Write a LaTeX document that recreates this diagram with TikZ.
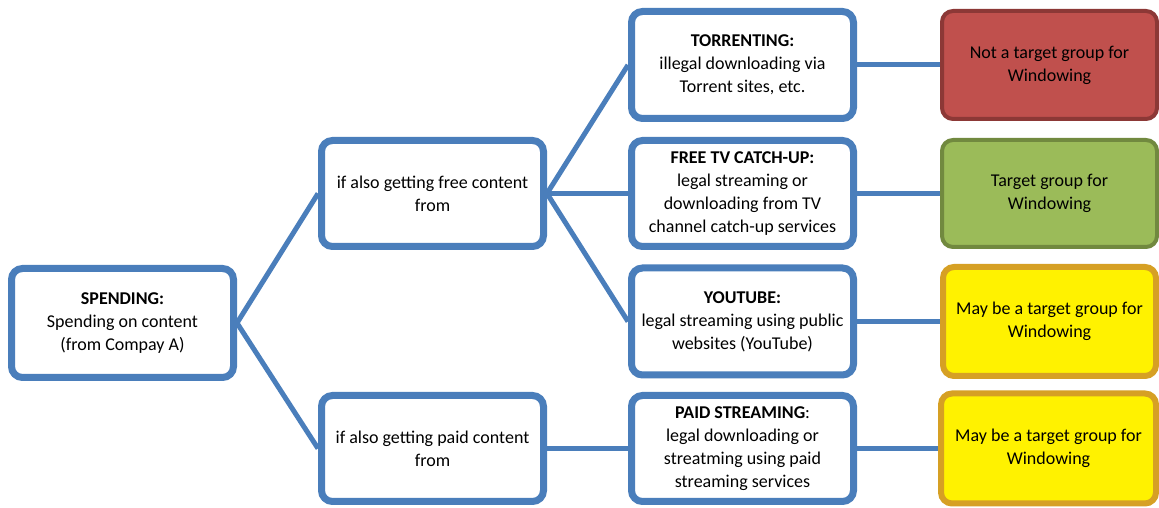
\documentclass[tikz,border=0pt]{standalone}
\usepackage{fontspec}
\setmainfont{Carlito}
\usepackage{tikz}
\usetikzlibrary{positioning}
\definecolor{boxblue}{RGB}{74,126,187}
\definecolor{redfill}{RGB}{192,80,77}
\definecolor{redline}{RGB}{140,56,54}
\definecolor{greenfill}{RGB}{155,187,89}
\definecolor{greenline}{RGB}{113,137,63}
\definecolor{yellowline}{RGB}{214,160,36}

\begin{document}
\begin{tikzpicture}[x=1pt,y=1pt,
    stepbox/.style={draw=boxblue, line width=7pt, rounded corners=11pt, fill=white,
                    minimum width=222pt, minimum height=107pt, align=center,
                    font=\fontsize{18}{23}\selectfont, inner sep=2pt},
    resbox/.style={rounded corners=11pt, minimum width=215pt, minimum height=108pt,
                   align=center, font=\fontsize{18}{23}\selectfont, inner sep=2pt},
    link/.style={draw=boxblue, line width=5pt}
]
\useasboundingbox (0,0) rectangle (1159,508);

\node[stepbox, minimum height=109pt] (spend) at (122.5,185) {\textbf{SPENDING:}\\Spending on content\\(from Compay A)};
\node[stepbox, minimum height=106pt] (free) at (432.5,314.5) {if also getting free content\\from};
\node[stepbox, minimum height=106pt] (paid) at (432.5,59.5) {if also getting paid content\\from};

\node[stepbox] (torrent) at (742.5,443) {\textbf{TORRENTING:}\\illegal downloading via\\Torrent sites, etc.};
\node[stepbox, minimum height=106pt] (catchup) at (742.5,314.5) {\textbf{FREE TV CATCH-UP:}\\legal streaming or\\downloading from TV\\channel catch-up services};
\node[stepbox] (youtube) at (742.5,186.5) {\textbf{YOUTUBE:}\\legal streaming using public\\websites (YouTube)};
\node[stepbox, minimum height=106pt] (paidstr) at (742.5,59.5) {\textbf{PAID STREAMING}:\\legal downloading or\\streatming using paid\\streaming services};

\node[resbox, draw=redline, line width=4pt, fill=redfill] (notgrp) at (1049.5,443) {Not a target group for\\Windowing};
\node[resbox, draw=greenline, line width=4pt, fill=greenfill, minimum height=107pt] (grp) at (1049.5,314.5) {Target group for\\Windowing};
\node[resbox, draw=yellowline, line width=6pt, fill=yellow, minimum width=213pt, minimum height=109pt] (maygrp) at (1049.5,186.5) {May be a target group for\\Windowing};
\node[resbox, draw=yellowline, line width=6pt, fill=yellow, minimum width=215pt, minimum height=110pt] (maygrpb) at (1048.5,59.5) {May be a target group for\\Windowing};

\draw[link] (spend.east) -- (free.west);
\draw[link] (spend.east) -- (paid.west);
\draw[link] (free.east) -- (torrent.west);
\draw[link] (free.east) -- (catchup.west);
\draw[link] (free.east) -- (youtube.west);
\draw[link] (paid.east) -- (paidstr.west);
\draw[link] (torrent.east) -- (notgrp.west);
\draw[link] (catchup.east) -- (grp.west);
\draw[link] (youtube.east) -- (maygrp.west);
\draw[link] (paidstr.east) -- (maygrpb.west);
\end{tikzpicture}
\end{document}
